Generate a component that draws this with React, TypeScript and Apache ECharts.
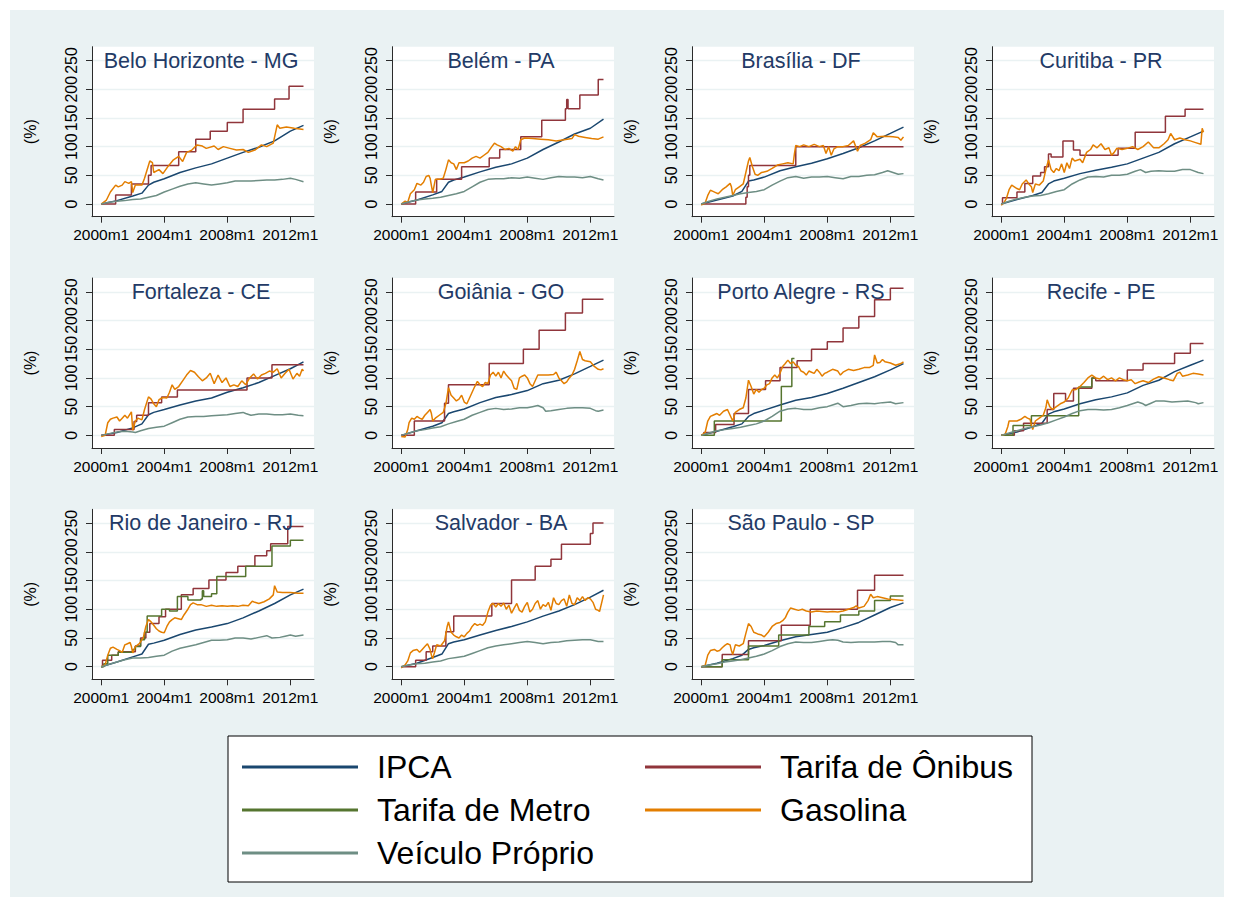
import React, { useEffect, useRef } from 'react';
import * as echarts from 'echarts';

const FONT = 'Liberation Sans, Arial, Helvetica, sans-serif';

const tickMonths = [0, 48, 96, 144];
const tickLabels = ['2000m1', '2004m1', '2008m1', '2012m1'];
const yTicks = [0, 50, 100, 150, 200, 250];
const seriesNames = ['IPCA', 'Tarifa de Ônibus', 'Tarifa de Metro', 'Gasolina', 'Veículo Próprio'];
const seriesColors = ['#1a476f', '#90353b', '#55752f', '#e37e00', '#6e8e84'];
const stepSeries = [false, true, true, false, false];
const cities = ['Belo Horizonte - MG', 'Belém - PA', 'Brasília - DF', 'Curitiba - PR', 'Fortaleza - CE', 'Goiânia - GO', 'Porto Alegre - RS', 'Recife - PE', 'Rio de Janeiro - RJ', 'Salvador - BA', 'São Paulo - SP'];

// ---- Belo Horizonte ----
const bhIPCA = [[0,0],[12,6],[24,14],[31,19],[36,33],[40,38],[48,44],[60,55],[72,63],[84,70],[96,80],[108,90],[120,99],[132,110],[144,127],[154,137]];
const bhOnibus = [[0,0],[11,16],[23,35],[36,50],[38,67],[59,91],[72,113],[83,127],[96,142],[108,165],[132,183],[143,205],[154,205]];
const bhGas = [[0,0],[4,7],[7,21],[11,33],[13,30],[16,33],[18,39],[21,36],[23,39],[24,20],[26,33],[31,33],[33,45],[37,75],[39,72],[40,55],[44,60],[47,53],[51,66],[55,77],[59,83],[62,74],[65,90],[69,94],[73,103],[77,101],[80,97],[86,101],[89,95],[93,100],[98,97],[103,94],[108,95],[112,90],[117,94],[122,103],[126,100],[131,106],[134,138],[136,132],[141,134],[147,132],[154,130]];
const bhVeic = [[0,0],[6,3],[12,5],[18,6],[24,8],[30,9],[36,12],[42,15],[48,21],[54,26],[60,31],[66,35],[72,37],[78,35],[84,33],[90,35],[96,37],[102,40],[108,40],[114,40],[120,41],[126,42],[132,42],[138,43],[144,45],[148,43],[154,39]];

// ---- Belém ----
const beIPCA = [[0,0],[12,7],[24,16],[31,22],[36,38],[40,42],[48,47],[60,56],[72,64],[84,70],[96,80],[108,95],[120,108],[132,122],[144,132],[154,148]];
const beOnibus = [[0,0],[11,21],[27,43],[46,65],[67,80],[75,95],[91,117],[107,146],[125,166],[126,182],[127,166],[136,190],[150,217],[154,217]];
const beGas = [[0,0],[3,5],[5,3],[7,18],[10,25],[12,36],[15,33],[17,38],[19,48],[21,50],[22,45],[23,32],[24,20],[26,43],[29,43],[32,45],[34,60],[36,77],[38,72],[40,70],[42,60],[44,72],[48,72],[51,75],[54,80],[57,83],[60,80],[63,85],[66,90],[69,100],[71,106],[73,103],[76,100],[79,95],[82,97],[85,92],[87,100],[89,95],[91,112],[94,115],[100,114],[106,113],[112,112],[118,110],[124,112],[130,114],[132,121],[135,118],[140,116],[145,114],[150,113],[154,117]];
const beVeic = [[0,0],[6,4],[12,7],[18,9],[24,10],[30,12],[36,15],[42,18],[48,22],[54,30],[60,38],[66,43],[72,44],[78,44],[84,46],[90,45],[96,47],[102,45],[108,43],[114,46],[120,48],[126,47],[132,47],[138,46],[144,48],[150,44],[154,42]];

// ---- Brasília ----
const brIPCA = [[0,0],[12,7],[24,14],[31,22],[36,40],[40,42],[48,47],[60,58],[72,65],[84,71],[96,79],[108,88],[120,98],[132,110],[144,123],[154,134]];
const brOnibus = [[0,0],[33,0],[34,12],[35,30],[36,50],[37,67],[71,67],[72,100],[154,100]];
const brGas = [[0,-2],[3,2],[5,15],[7,24],[9,22],[11,20],[13,18],[16,25],[19,30],[22,36],[23,30],[24,15],[26,25],[29,30],[32,35],[34,55],[36,75],[37,81],[39,65],[41,52],[43,50],[46,55],[50,57],[54,62],[58,68],[62,70],[66,72],[70,70],[71,88],[72,102],[75,100],[78,103],[82,100],[86,104],[90,100],[93,102],[95,88],[97,100],[99,85],[101,96],[104,100],[108,100],[112,102],[116,110],[119,92],[121,102],[125,106],[129,112],[131,124],[134,117],[140,118],[146,117],[150,116],[152,111],[154,117]];
const brVeic = [[0,0],[6,5],[12,9],[18,12],[24,15],[30,18],[36,20],[42,22],[48,25],[54,33],[60,40],[66,46],[72,48],[78,45],[84,47],[90,47],[96,48],[102,46],[108,44],[114,48],[120,48],[126,50],[132,51],[138,55],[142,58],[146,55],[150,52],[154,53]];

// ---- Curitiba ----
const cuIPCA = [[0,0],[12,8],[24,15],[31,20],[36,35],[40,40],[48,45],[60,53],[72,59],[84,64],[96,70],[108,80],[120,90],[132,105],[144,117],[154,127]];
const cuOnibus = [[0,0],[1,11],[9,11],[12,21],[18,36],[24,49],[30,55],[33,65],[36,87],[38,82],[47,110],[55,94],[60,85],[89,97],[102,125],[125,153],[140,165],[154,165]];
const cuGas = [[0,-2],[2,2],[4,10],[6,25],[8,33],[10,30],[12,27],[14,25],[16,35],[19,42],[21,35],[23,30],[24,20],[26,35],[29,33],[32,40],[34,60],[36,77],[38,60],[40,55],[42,62],[44,58],[46,70],[48,55],[50,72],[52,62],[54,80],[56,75],[60,78],[62,72],[65,90],[68,95],[70,103],[73,98],[76,105],[79,95],[82,98],[84,85],[86,90],[88,97],[92,95],[96,97],[100,100],[104,95],[108,100],[112,108],[116,98],[120,98],[124,105],[127,112],[129,123],[132,112],[136,115],[140,112],[144,110],[148,107],[152,104],[153,132],[154,125]];
const cuVeic = [[0,0],[6,5],[12,9],[18,12],[24,14],[30,15],[36,18],[42,22],[48,25],[54,35],[60,42],[66,47],[72,48],[78,47],[84,50],[90,50],[96,52],[102,57],[106,60],[110,55],[114,57],[120,58],[126,57],[132,57],[138,60],[144,60],[150,55],[154,53]];

// ---- Fortaleza ----
const foIPCA = [[0,0],[12,5],[24,13],[31,20],[36,36],[40,40],[48,45],[60,53],[72,60],[84,65],[96,75],[108,83],[120,92],[132,104],[144,116],[154,128]];
const foOnibus = [[0,0],[10,10],[25,24],[27,35],[36,57],[46,67],[58,79],[111,100],[130,123],[154,123]];
const foGas = [[0,-2],[3,0],[5,22],[7,28],[9,30],[12,32],[14,25],[16,30],[18,35],[20,30],[23,41],[24,9],[26,25],[28,30],[31,27],[33,45],[36,67],[38,63],[40,55],[42,50],[44,62],[47,66],[50,65],[52,75],[54,88],[56,80],[59,85],[62,95],[65,105],[68,113],[71,110],[74,102],[77,95],[80,100],[83,108],[86,90],[89,105],[92,92],[95,100],[98,85],[101,88],[104,85],[107,95],[110,88],[113,100],[116,107],[119,98],[122,105],[125,108],[128,112],[131,110],[134,116],[137,100],[140,108],[143,115],[146,98],[149,108],[151,103],[153,115],[154,112]];
const foVeic = [[0,0],[6,3],[12,6],[18,7],[24,6],[26,5],[30,8],[36,12],[42,14],[48,16],[54,22],[60,28],[66,32],[72,33],[78,33],[84,34],[90,35],[96,36],[102,38],[108,40],[110,38],[114,35],[120,37],[126,37],[132,36],[138,36],[144,37],[150,35],[154,34]];

// ---- Goiânia ----
const goIPCA = [[0,0],[12,8],[24,16],[31,22],[36,38],[40,41],[48,46],[60,57],[72,66],[84,71],[96,78],[108,90],[120,96],[132,107],[144,120],[154,131]];
const goOnibus = [[0,0],[10,25],[33,56],[36,88],[67,125],[93,150],[105,183],[125,213],[138,237],[154,237]];
const goGas = [[0,-2],[3,-3],[5,10],[6,22],[8,30],[10,28],[12,33],[14,30],[16,28],[18,35],[20,40],[22,45],[23,38],[24,25],[26,30],[29,35],[32,40],[34,55],[36,83],[38,70],[40,65],[42,60],[44,63],[46,70],[48,58],[50,55],[52,65],[54,75],[56,85],[58,94],[60,88],[62,85],[64,92],[66,90],[68,105],[70,110],[72,103],[74,110],[76,100],[78,112],[80,105],[82,100],[84,95],[86,82],[88,80],[90,100],[92,103],[94,105],[96,100],[98,90],[100,85],[102,95],[104,105],[108,105],[112,105],[116,106],[118,110],[120,100],[122,95],[124,90],[126,93],[128,100],[130,105],[132,115],[134,130],[136,146],[138,132],[140,130],[144,128],[147,120],[150,115],[152,114],[154,116]];
const goVeic = [[0,0],[6,4],[12,8],[18,10],[24,13],[30,15],[36,20],[42,24],[48,28],[54,35],[60,40],[66,45],[72,47],[78,45],[84,46],[90,48],[96,48],[100,50],[104,52],[108,48],[110,42],[114,43],[120,45],[126,47],[132,48],[138,48],[144,47],[148,43],[150,42],[154,44]];

// ---- Porto Alegre ----
const poIPCA = [[0,0],[12,7],[24,15],[31,20],[36,33],[40,38],[48,44],[60,53],[72,61],[84,66],[96,73],[108,82],[120,92],[132,102],[144,114],[154,125]];
const poOnibus = [[0,0],[2,5],[11,19],[25,38],[36,80],[49,95],[60,118],[73,130],[84,150],[96,163],[108,187],[120,207],[132,236],[144,256],[154,256]];
const poMetro = [[0,0],[10,25],[61,85],[69,134],[71,134]];
const poGas = [[0,0],[3,5],[5,25],[7,33],[9,35],[12,38],[14,35],[17,42],[20,45],[22,35],[24,25],[26,40],[29,45],[32,48],[34,65],[36,96],[38,85],[40,72],[42,80],[44,75],[46,80],[48,82],[50,88],[52,90],[54,100],[56,105],[58,100],[60,108],[62,120],[64,125],[66,131],[68,125],[70,128],[72,122],[74,120],[76,112],[78,110],[80,105],[82,112],[84,110],[86,108],[88,115],[90,110],[92,103],[94,108],[96,110],[100,115],[104,112],[106,105],[108,110],[112,115],[116,113],[120,115],[124,118],[128,118],[131,122],[132,140],[134,126],[136,127],[138,132],[140,128],[144,126],[148,122],[152,125],[154,128]];
const poVeic = [[0,0],[6,4],[12,8],[18,10],[24,12],[30,14],[36,17],[42,20],[48,25],[54,33],[60,42],[66,46],[72,47],[78,45],[84,45],[90,48],[96,50],[100,53],[104,56],[108,50],[114,52],[120,55],[126,56],[132,55],[138,57],[144,58],[148,55],[154,57]];

// ---- Recife ----
const reIPCA = [[0,0],[12,6],[24,15],[31,21],[36,37],[40,41],[48,46],[60,55],[72,62],[84,67],[96,74],[108,87],[120,96],[132,111],[144,122],[154,131]];
const reOnibus = [[0,0],[10,8],[17,21],[35,45],[40,73],[49,60],[55,82],[69,100],[72,95],[96,114],[108,125],[132,143],[144,160],[154,160]];
const reMetro = [[0,0],[9,17],[23,34],[59,84],[69,100],[72,100]];
const reGas = [[0,0],[3,2],[5,15],[6,25],[9,25],[12,25],[15,28],[18,33],[20,30],[22,28],[23,18],[24,10],[26,25],[29,30],[32,35],[34,48],[35,62],[37,50],[39,45],[42,50],[45,55],[48,58],[51,65],[54,79],[57,80],[60,85],[63,92],[66,100],[69,105],[72,100],[75,98],[78,103],[81,97],[84,100],[87,95],[90,100],[93,97],[96,95],[99,97],[102,90],[105,93],[108,95],[112,92],[116,98],[120,102],[124,100],[128,97],[131,95],[134,108],[136,110],[138,103],[142,105],[146,108],[150,107],[154,105]];
const reVeic = [[0,0],[6,4],[12,8],[18,12],[24,15],[30,18],[36,22],[42,27],[48,32],[54,38],[60,43],[66,45],[72,45],[78,44],[84,45],[90,48],[96,52],[100,55],[104,58],[108,55],[110,52],[114,56],[118,60],[124,60],[130,58],[136,59],[142,60],[148,57],[150,55],[154,57]];

// ---- Rio de Janeiro ----
const rjIPCA = [[0,0],[12,8],[24,17],[31,22],[36,39],[40,41],[48,46],[60,56],[72,64],[84,69],[96,75],[108,85],[120,97],[132,110],[144,125],[154,135]];
const rjOnibus = [[0,0],[1,11],[8,20],[13,26],[26,36],[30,50],[34,60],[37,75],[44,87],[49,100],[61,125],[70,136],[82,151],[95,164],[104,175],[117,193],[126,202],[129,214],[142,244],[154,244]];
const rjMetro = [[0,0],[2,5],[5,20],[13,25],[24,30],[26,35],[30,47],[33,60],[35,88],[45,88],[46,100],[52,97],[58,122],[66,116],[76,118],[77,132],[78,122],[84,127],[88,157],[110,175],[130,210],[144,220],[154,220]];
const rjGas = [[0,0],[3,3],[5,20],[7,32],[9,34],[12,30],[14,28],[16,25],[18,38],[20,40],[22,42],[23,35],[24,24],[26,35],[29,40],[32,50],[34,70],[36,82],[38,78],[40,72],[42,66],[44,62],[46,60],[48,59],[50,70],[52,78],[54,82],[56,85],[58,84],[61,82],[63,90],[66,100],[68,108],[70,111],[73,108],[76,108],[80,105],[84,107],[88,105],[92,106],[96,105],[100,106],[104,105],[108,107],[112,106],[115,114],[117,112],[120,110],[124,113],[128,118],[131,125],[132,141],[134,130],[138,129],[144,129],[150,128],[154,128]];
const rjVeic = [[0,0],[6,4],[12,8],[18,12],[24,15],[30,15],[36,16],[42,18],[48,20],[54,27],[60,32],[66,35],[72,38],[78,42],[84,46],[90,46],[96,47],[102,50],[108,50],[114,48],[120,51],[126,54],[130,50],[136,51],[140,53],[144,55],[148,53],[154,55]];

// ---- Salvador ----
const saIPCA = [[0,0],[12,6],[24,16],[31,22],[36,40],[40,43],[48,47],[60,55],[72,63],[84,70],[96,78],[108,88],[120,97],[132,108],[144,121],[154,133]];
const saOnibus = [[0,0],[11,11],[19,26],[24,36],[34,61],[40,88],[69,110],[84,151],[102,175],[114,187],[122,213],[144,232],[146,250],[154,250]];
const saGas = [[0,-2],[3,3],[5,10],[7,24],[9,28],[12,30],[14,25],[16,30],[18,35],[20,40],[22,30],[23,20],[24,14],[26,30],[27,38],[30,36],[33,45],[35,70],[36,78],[38,60],[40,55],[42,52],[44,50],[46,55],[48,52],[50,58],[52,62],[54,70],[56,75],[58,72],[60,74],[62,72],[64,78],[66,95],[68,107],[70,110],[72,104],[74,110],[76,105],[78,111],[80,100],[82,107],[84,93],[86,102],[88,110],[90,98],[92,95],[94,105],[96,112],[98,95],[100,100],[102,110],[104,115],[106,100],[108,108],[110,105],[112,112],[114,98],[116,120],[118,110],[120,108],[122,115],[124,118],[126,105],[128,125],[130,110],[132,108],[134,120],[136,115],[138,122],[140,115],[142,120],[144,118],[146,112],[148,100],[150,98],[151,96],[153,115],[154,125]];
const saVeic = [[0,0],[6,3],[12,5],[18,6],[24,8],[30,10],[36,14],[42,16],[48,18],[54,23],[60,28],[66,33],[72,36],[78,38],[84,40],[90,42],[96,44],[102,42],[108,40],[114,42],[120,43],[126,45],[132,46],[138,47],[144,47],[150,44],[154,44]];

// ---- São Paulo ----
const spIPCA = [[0,0],[12,6],[24,14],[31,20],[36,30],[40,33],[48,37],[60,45],[72,52],[84,56],[96,60],[108,68],[120,77],[132,90],[144,103],[154,111]];
const spOnibus = [[0,0],[16,21],[36,45],[61,72],[83,100],[119,133],[132,159],[154,159]];
const spMetro = [[0,0],[16,12],[36,36],[59,55],[82,70],[94,78],[106,90],[120,97],[132,115],[144,123],[154,123]];
const spGas = [[0,0],[3,2],[5,20],[7,28],[10,30],[12,27],[14,28],[16,33],[18,37],[20,40],[22,38],[23,28],[24,21],[26,38],[29,36],[32,40],[34,58],[36,75],[38,70],[40,60],[43,57],[46,55],[48,52],[51,60],[54,70],[57,75],[60,77],[62,80],[64,85],[66,95],[68,102],[71,100],[74,98],[77,100],[80,97],[84,95],[88,97],[92,96],[96,95],[100,96],[104,95],[108,97],[112,100],[116,103],[118,106],[120,102],[124,105],[127,115],[129,126],[131,120],[134,122],[138,120],[142,118],[146,117],[150,116],[154,115]];
const spVeic = [[0,0],[6,3],[12,5],[18,8],[24,10],[30,12],[36,15],[42,18],[48,22],[54,28],[60,35],[66,40],[72,43],[78,42],[84,42],[90,44],[96,46],[100,47],[104,46],[108,43],[114,42],[120,43],[126,43],[132,43],[138,44],[144,44],[148,42],[150,38],[154,38]];

// order per city: IPCA, Ônibus, Metro, Gasolina, Veículo
const cityData = [
  [bhIPCA, bhOnibus, null, bhGas, bhVeic],
  [beIPCA, beOnibus, null, beGas, beVeic],
  [brIPCA, brOnibus, null, brGas, brVeic],
  [cuIPCA, cuOnibus, null, cuGas, cuVeic],
  [foIPCA, foOnibus, null, foGas, foVeic],
  [goIPCA, goOnibus, null, goGas, goVeic],
  [poIPCA, poOnibus, poMetro, poGas, poVeic],
  [reIPCA, reOnibus, reMetro, reGas, reVeic],
  [rjIPCA, rjOnibus, rjMetro, rjGas, rjVeic],
  [saIPCA, saOnibus, null, saGas, saVeic],
  [spIPCA, spOnibus, spMetro, spGas, spVeic],
];

function buildOption() {
  const grids: any[] = [];
  const xAxes: any[] = [];
  const yAxes: any[] = [];
  const series: any[] = [];
  const graphics: any[] = [];
  const axisColor = '#2b2b2b';
  const PW = 222, PH = 170;
  cities.forEach((city, i) => {
    const r = Math.floor(i / 4), c = i % 4;
    const left = 82 + 300 * c;
    const top = 36.7 + 231.3 * r;
    grids.push({
      left, top, width: PW, height: PH, show: true, backgroundColor: '#ffffff',
      borderWidth: 0, containLabel: false, outerBoundsMode: 'none',
    });
    xAxes.push({
      type: 'value', gridIndex: i, min: -7, max: 162,
      axisLine: { show: true, onZero: false, lineStyle: { color: axisColor, width: 1 } },
      axisTick: { show: true, length: 6, customValues: tickMonths, lineStyle: { color: axisColor, width: 1 } },
      axisLabel: {
        customValues: tickMonths, fontSize: 15.5, color: '#000', margin: 10, fontFamily: FONT,
        formatter: (v: number) => tickLabels[tickMonths.indexOf(Math.round(v))] ?? '',
      },
      splitLine: { show: false },
    });
    yAxes.push({
      type: 'value', gridIndex: i, min: -22, max: 274, splitNumber: 5,
      name: '(%)', nameLocation: 'middle', nameGap: 54, nameRotate: 90,
      nameTextStyle: { fontSize: 16, color: '#000', fontFamily: FONT },
      axisLine: { show: true, onZero: false, lineStyle: { color: axisColor, width: 1 } },
      axisTick: { show: true, length: 6, customValues: yTicks, lineStyle: { color: axisColor, width: 1 } },
      axisLabel: { customValues: yTicks, rotate: 90, fontSize: 16, color: '#000', margin: 13, fontFamily: FONT },
      splitLine: { show: true, customValues: yTicks, lineStyle: { color: '#eaf2f3', width: 1.3 } },
    });
    cityData[i].forEach((data, k) => {
      if (!data) return;
      series.push({
        type: 'line', name: seriesNames[k], xAxisIndex: i, yAxisIndex: i, data,
        step: stepSeries[k] ? 'end' : false, showSymbol: false, symbol: 'none', silent: true,
        lineStyle: { color: seriesColors[k], width: 1.5 }, itemStyle: { color: seriesColors[k] },
        emphasis: { disabled: true },
      });
    });
    graphics.push({
      type: 'text', x: left + PW / 2 - 2, y: top + 14, silent: true, z: 10,
      style: { text: city, fontSize: 21.5, fontFamily: FONT, fill: '#233a66', align: 'center', verticalAlign: 'middle' },
    });
  });

  // legend box
  const LX = 218, LY = 726, LW = 804, LH = 146;
  graphics.push({
    type: 'rect', shape: { x: LX, y: LY, width: LW, height: LH }, silent: true,
    style: { fill: '#ffffff', stroke: '#000000', lineWidth: 1 },
  });
  seriesNames.forEach((n, k) => {
    const row = Math.floor(k / 2), col = k % 2;
    const lx = col === 0 ? 232 : 635;
    const ly = 757 + 43 * row;
    graphics.push({
      type: 'line', silent: true,
      shape: { x1: lx, y1: ly, x2: lx + 116, y2: ly },
      style: { stroke: seriesColors[k], lineWidth: 3 },
    });
    graphics.push({
      type: 'text', silent: true, x: lx + 135, y: ly,
      style: { text: n, fontSize: 32, fontFamily: FONT, fill: '#000', align: 'left', verticalAlign: 'middle' },
    });
  });

  return {
    animation: false,
    backgroundColor: '#eaf2f3',
    grid: grids,
    xAxis: xAxes,
    yAxis: yAxes,
    series,
    graphic: { elements: graphics },
  };
}

export default function App() {
  const ref = useRef<HTMLDivElement>(null);
  useEffect(() => {
    if (!ref.current) return;
    const chart = echarts.init(ref.current, null, { renderer: 'svg' });
    chart.setOption(buildOption() as any);
    return () => chart.dispose();
  }, []);
  return (
    <div
      ref={ref}
      style={{ position: 'absolute', left: 10, top: 10, width: 1214, height: 887 }}
    />
  );
}
